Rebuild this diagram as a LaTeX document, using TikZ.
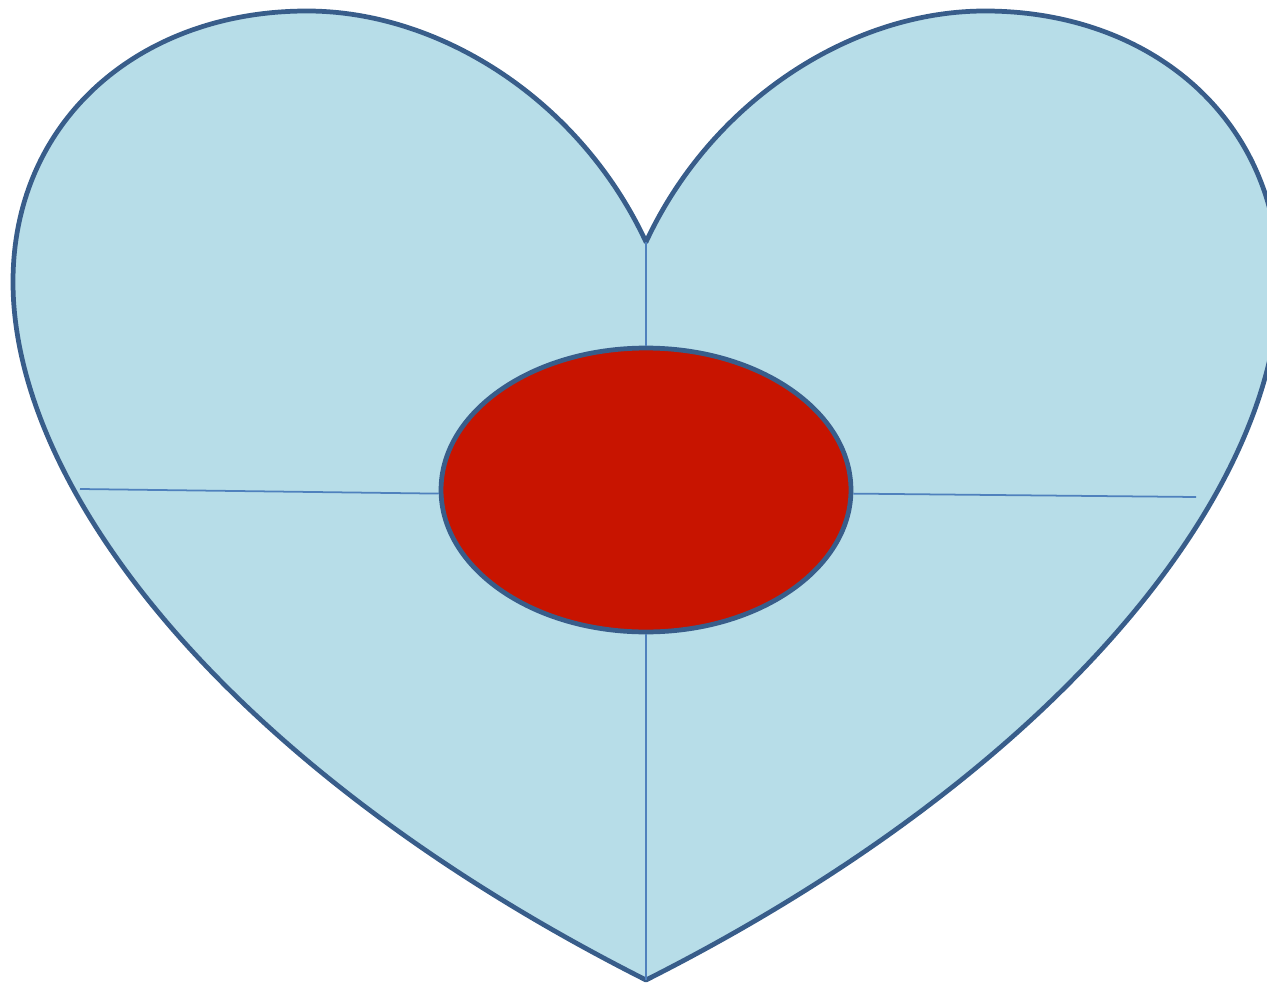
\documentclass[tikz,border=0pt]{standalone}
\usepackage{tikz}
\usetikzlibrary{shapes.geometric}

\definecolor{heartfill}{HTML}{B7DDE8}
\definecolor{heartline}{HTML}{385D8A}
\definecolor{splitline}{HTML}{4F81BD}
\definecolor{corered}{HTML}{C81400}

\begin{document}
\begin{tikzpicture}[
  x=0.02cm, y=-0.02cm,
  hrt/.style={draw=heartline, fill=heartfill, line width=2.7pt, line join=round},
  core/.style={ellipse, draw=heartline, fill=corered, line width=2.7pt,
               minimum width=8.2cm, minimum height=5.68cm, inner sep=0pt},
  sep/.style={draw=splitline, line width=1pt},
]
\useasboundingbox (0,0) rectangle (1267,983);
\clip (0,0) rectangle (1267,983);

\coordinate (cusp) at (646,242);
\coordinate (tip) at (646,980);
\coordinate (lend) at (80,489);
\coordinate (rend) at (1196,497);

% heart outline
\path[hrt] (cusp)
  .. controls (580,100) and (440,11) .. (307,11)
  .. controls (140,11) and (13,120) .. (13,282)
  .. controls (13,490) and (230,770) .. (tip)
  .. controls (1062,770) and (1279,490) .. (1279,282)
  .. controls (1279,120) and (1152,11) .. (985,11)
  .. controls (852,11) and (712,100) .. (cusp) -- cycle;

\node[core] (mid) at (646,490) {};

\draw[sep] (cusp) -- (mid.north);
\draw[sep] (mid.south) -- (tip);
\draw[sep] (lend) -- (mid.181);
\draw[sep] (mid.-1.5) -- (rend);
\end{tikzpicture}
\end{document}
